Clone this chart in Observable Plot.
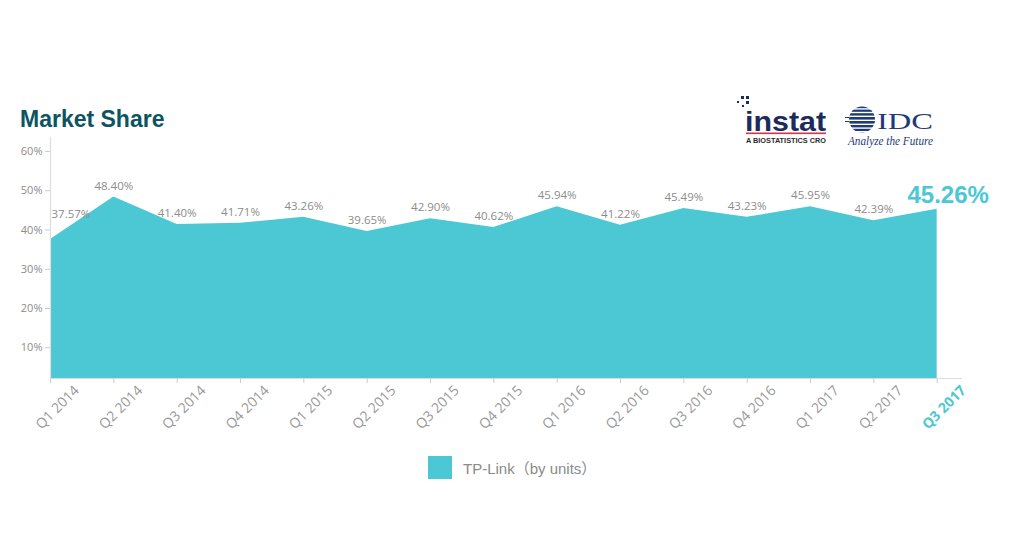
<!DOCTYPE html>
<html>
<head>
<meta charset="utf-8">
<script src="https://cdn.jsdelivr.net/npm/d3@7"></script>
<script src="https://cdn.jsdelivr.net/npm/@observablehq/plot@0.6"></script>
<style>
  html, body { margin: 0; padding: 0; background: #fff; }
  #wrap { position: relative; width: 1013px; height: 534px; overflow: hidden; font-family: "Open Sans", sans-serif; }
  #chart { position: absolute; left: 0; top: 0; }
  #title { position: absolute; left: 20px; top: 106px; font: bold 23px "Liberation Sans", Arial, sans-serif; color: #0c5462; white-space: nowrap; }
  #logos { position: absolute; left: 0; top: 0; }
  #legend { position: absolute; left: 428px; top: 456px; display: flex; align-items: center; white-space: nowrap; }
  #legend .sw { width: 24px; height: 23px; background: #4bc8d3; }
  #legend .lb { margin-left: 11px; font: 15px "Liberation Sans", "Noto Sans CJK SC", sans-serif; color: #8a8a8a; }
</style>
</head>
<body>
<div id="wrap">
  <div id="chart"></div>
  <div id="title">Market Share</div>
  <svg id="logos" width="1013" height="160">
    <!-- instat logo -->
    <g fill="#1d2a5c">
      <rect x="741" y="96" width="3" height="3"/>
      <rect x="746" y="96" width="3" height="3"/>
      <rect x="746" y="101" width="3" height="3"/>
      <rect x="737" y="101" width="2" height="2"/>
      <rect x="742" y="105" width="2" height="2"/>
    </g>
    <text x="745" y="131" font-family="Liberation Sans, Arial" font-weight="bold" font-size="27" fill="#1d2a5c" textLength="81" lengthAdjust="spacingAndGlyphs">instat</text>
    <rect x="746" y="132.5" width="80" height="1.6" fill="#d2334a"/>
    <text x="746" y="143" font-family="Liberation Sans, Arial" font-weight="bold" font-size="7" fill="#2a2a2a" textLength="80" lengthAdjust="spacingAndGlyphs">A BIOSTATISTICS CRO</text>
    <!-- IDC logo -->
    <defs>
      <clipPath id="globe"><circle cx="862" cy="119.5" r="13"/></clipPath>
    </defs>
    <g clip-path="url(#globe)" fill="#1e3a78">
      <rect x="848" y="106" width="28" height="2.2"/>
      <rect x="848" y="109.6" width="28" height="2.2"/>
      <rect x="848" y="113.2" width="28" height="2.4"/>
      <rect x="848" y="117" width="28" height="2.6"/>
      <rect x="848" y="121" width="28" height="2.6"/>
      <rect x="848" y="125" width="28" height="2.4"/>
      <rect x="848" y="128.8" width="28" height="2.2"/>
      <rect x="848" y="132.4" width="28" height="2.2"/>
    </g>
    <g fill="#1e3a78">
      <rect x="845" y="117" width="4" height="1"/>
      <rect x="845" y="121" width="4" height="1"/>
    </g>
    <text x="877" y="129" font-family="Liberation Serif, serif" font-size="24" fill="#1e3a78" textLength="56" lengthAdjust="spacingAndGlyphs">IDC</text>
    <text x="848" y="145" font-family="Liberation Serif, serif" font-style="italic" font-size="12.5" fill="#1e3a78" textLength="85" lengthAdjust="spacingAndGlyphs">Analyze the Future</text>
  </svg>
  <div id="legend"><div class="sw"></div><div class="lb">TP-Link（by units）</div></div>
</div>
<script>
const quarters = ["Q1 2014","Q2 2014","Q3 2014","Q4 2014","Q1 2015","Q2 2015","Q3 2015","Q4 2015","Q1 2016","Q2 2016","Q3 2016","Q4 2016","Q1 2017","Q2 2017","Q3 2017"];
const share = [37.57,48.40,41.40,41.71,43.26,39.65,42.90,40.62,45.94,41.22,45.49,43.23,45.95,42.39,45.26];
const yTicks = [10,20,30,40,50,60];

const teal = "#4bc8d3";
const gray = "#8c8c8c";
const yMin = 2.17, yMax = 63.57;

const data = share.map((v, i) => ({i, q: quarters[i], v}));
const last = data.length - 1;
const mid = data.filter(d => d.i > 0 && d.i < last);

const plot = Plot.plot({
  width: 1013,
  height: 440,
  marginLeft: 50,
  marginRight: 51,
  marginTop: 137,
  marginBottom: 62,
  style: {fontFamily: "Open Sans, sans-serif", background: "transparent"},
  x: {type: "linear", domain: [0, 14.4], axis: null},
  y: {domain: [yMin, yMax], axis: null},
  marks: [
    Plot.areaY(data, {x: "i", y1: yMin, y2: "v", fill: teal, curve: "linear"}),
    Plot.ruleX([0], {stroke: "#dcdcdc", strokeWidth: 1.2}),
    Plot.ruleY([yMin], {stroke: "#dcdcdc", strokeWidth: 1.2}),
    Plot.axisY({ticks: yTicks, tickFormat: d => d + "%", tickSize: 5, tickPadding: 3, stroke: "#cccccc", fill: gray, fontSize: 11, label: null}),
    Plot.axisX({ticks: d3.range(quarters.length), tickFormat: () => "", tickSize: 5, stroke: "#cccccc", anchor: "bottom", label: null}),
    Plot.text(data.filter(d => d.i < last), {x: "i", y: yMin, text: "q", rotate: -45, textAnchor: "middle", lineAnchor: "middle", dx: 7, dy: 29, fill: "#999", fontSize: 14}),
    Plot.text([data[last]], {x: "i", y: yMin, text: "q", rotate: -45, textAnchor: "middle", lineAnchor: "middle", dx: 7, dy: 29, fill: teal, fontSize: 14, fontWeight: "bold"}),
    Plot.text(mid, {x: "i", y: "v", text: d => d.v.toFixed(2) + "%", dy: -11, lineAnchor: "middle", fill: gray, fontSize: 11.5}),
    Plot.text([data[0]], {x: "i", y: "v", text: d => d.v.toFixed(2) + "%", dy: -25, dx: 1, textAnchor: "start", lineAnchor: "middle", fill: gray, fontSize: 11.5}),
    Plot.text([data[last]], {x: "i", y: "v", text: d => d.v.toFixed(2) + "%", dy: -14, dx: 11, lineAnchor: "middle", fill: teal, fontSize: 24, fontWeight: "bold", fontFamily: "Liberation Sans, Arial, sans-serif"})
  ]
});
document.getElementById("chart").appendChild(plot);
</script>
</body>
</html>
